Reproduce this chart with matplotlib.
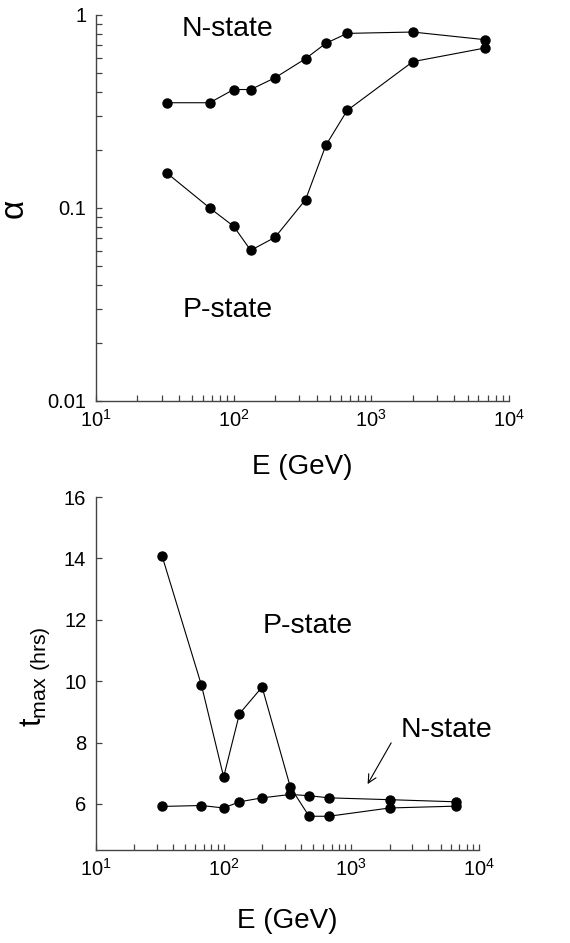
"""Two-panel plot: a and t_max versus energy for N-state and P-state."""

import matplotlib
matplotlib.use("Agg")
import matplotlib.pyplot as plt
from matplotlib.ticker import FixedLocator, FixedFormatter, NullFormatter

plt.rcParams["font.family"] = ["Liberation Sans", "DejaVu Sans"]
plt.rcParams["mathtext.default"] = "regular"

# energies (GeV)
energy = [33, 67, 100, 133, 200, 333, 467, 667, 2000, 6667]

# top panel: a
a_nstate = [0.351, 0.351, 0.411, 0.411, 0.473, 0.594, 0.713, 0.803, 0.816, 0.745]
a_pstate = [0.151, 0.100, 0.0804, 0.0603, 0.0705, 0.1105, 0.211, 0.320, 0.573, 0.674]

# bottom panel: t_max (hrs)
t_nstate = [5.92, 5.95, 5.87, 6.07, 6.20, 6.31, 6.27, 6.20, 6.14, 6.07]
t_pstate = [14.07, 9.87, 6.88, 8.94, 9.81, 6.55, 5.60, 5.60, 5.87, 5.93]

a_ticks = [0.01, 0.1, 1]
a_ticklabels = ["0.01", "0.1", "1"]
t_ticks = [6, 8, 10, 12, 14, 16]

LINE = dict(color="black", linewidth=0.8, marker="o", markersize=6.5)


def style_axes(ax):
    for side in ("top", "right"):
        ax.spines[side].set_visible(False)
    for side in ("left", "bottom"):
        ax.spines[side].set_color("#444444")
        ax.spines[side].set_linewidth(1.0)
    ax.tick_params(which="both", direction="in", length=4.5, width=0.9,
                   color="#444444", labelsize=14.5)
    ax.tick_params(axis="y", which="both", pad=7)
    ax.tick_params(axis="x", which="both", pad=6)
    ax.xaxis.set_minor_formatter(NullFormatter())


fig = plt.figure(figsize=(5.7, 9.43), dpi=100)

# top panel
ax1 = fig.add_axes([0.1684, 0.5748, 0.7246, 0.4093])
ax1.plot(energy, a_nstate, **LINE)
ax1.plot(energy, a_pstate, **LINE)
ax1.set_xscale("log")
ax1.set_yscale("log")
ax1.set_xlim(10, 10000)
ax1.set_ylim(0.01, 1)
ax1.yaxis.set_major_locator(FixedLocator(a_ticks))
ax1.yaxis.set_major_formatter(FixedFormatter(a_ticklabels))
ax1.yaxis.set_minor_formatter(NullFormatter())
style_axes(ax1)
ax1.set_xlabel("E (GeV)", fontsize=20)
ax1.xaxis.set_label_coords(0.5, -0.137)
ax1.set_ylabel("α", fontsize=24)
ax1.yaxis.set_label_coords(-0.16, 0.5)
ax1.text(90, 0.85, "N-state", fontsize=20.5, ha="center", va="center")
ax1.text(91, 0.0297, "P-state", fontsize=20.5, ha="center", va="center")

# bottom panel
ax2 = fig.add_axes([0.1684, 0.0986, 0.6719, 0.3743])
ax2.plot(energy, t_nstate, **LINE)
ax2.plot(energy, t_pstate, **LINE)
ax2.set_xscale("log")
ax2.set_xlim(10, 10000)
ax2.set_ylim(4.5, 16)
ax2.set_yticks(t_ticks)
style_axes(ax2)
ax2.set_xlabel("E (GeV)", fontsize=20)
ax2.xaxis.set_label_coords(0.5, -0.164)
ax2.set_ylabel(r"t$_{\mathregular{max\ (hrs)}}$", fontsize=22)
ax2.yaxis.set_label_coords(-0.115, 0.49)
ax2.text(457, 11.81, "P-state", fontsize=20.5, ha="center", va="center")
ax2.text(5546, 8.42, "N-state", fontsize=20.5, ha="center", va="center")
ax2.annotate("", xy=(1309, 6.57), xytext=(2104, 8.07),
             arrowprops=dict(arrowstyle="->,head_length=0.6,head_width=0.3",
                             color="black", lw=0.8))

fig.savefig("out.png", dpi=100)
plt.close(fig)
